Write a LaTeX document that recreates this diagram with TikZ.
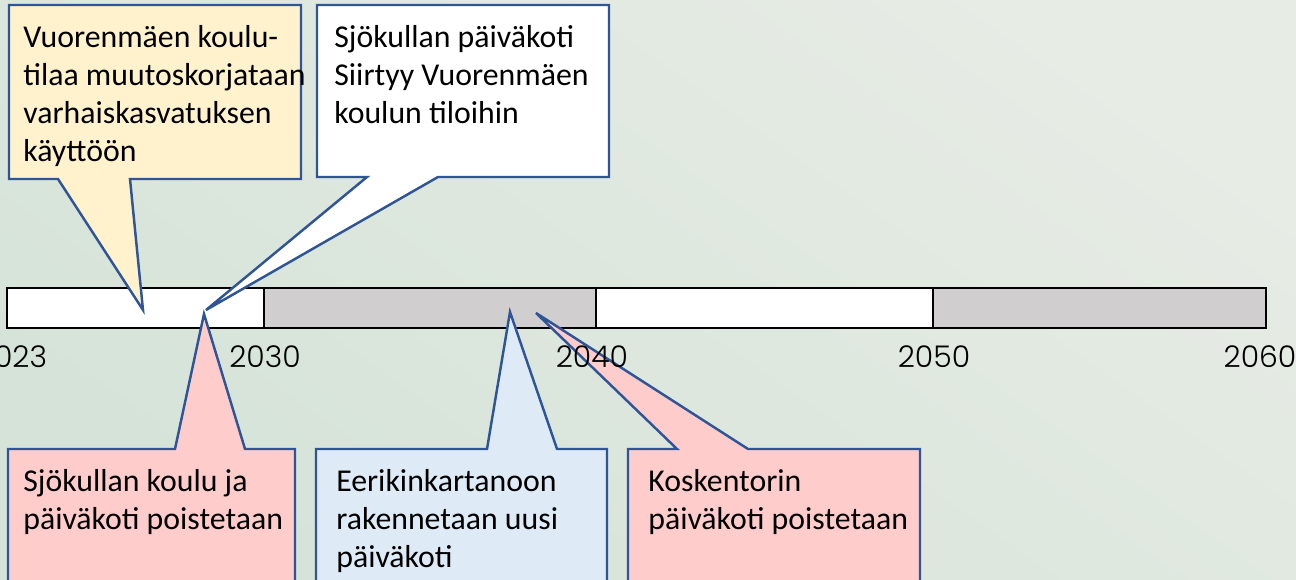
\documentclass[tikz,border=0pt]{standalone}
\usepackage{fontspec}
\setmainfont{Carlito}
\newfontfamily\yearfont{Poppins Light}
\definecolor{reuna}{RGB}{47,85,151}
\definecolor{keltainen}{RGB}{255,242,204}
\definecolor{punainen}{RGB}{255,204,204}
\definecolor{sininen}{RGB}{222,235,247}
\definecolor{harmaa}{RGB}{208,206,206}
\definecolor{taustaa}{RGB}{213,227,216}
\definecolor{taustab}{RGB}{231,236,229}
\usetikzlibrary{positioning}

\begin{document}
\begin{tikzpicture}[x=0.02cm,y=-0.02cm,
    puhe/.style={draw=reuna,line width=1.4pt,line join=miter},
    jana/.style={draw=black,line width=1.6pt},
    teksti/.style={anchor=north west,inner sep=0pt,align=left,
      font=\fontsize{18.1}{21.7}\selectfont},
    vuosi/.style={inner sep=0pt,font=\yearfont\fontsize{17}{20}\selectfont}]
      % 1 px = 0.02cm, y grows downwards
      \useasboundingbox (0,0) rectangle (1296,580);
      \clip (0,0) rectangle (1296,580);
      \shade[bottom color=taustaa,top color=taustab,shading angle=-35]
        (0,0) rectangle (1296,580);

      % time bar
      \draw[jana,fill=white]   (7,288)   rectangle (264,328);  % 2023-2030
      \draw[jana,fill=harmaa]  (264,288) rectangle (596,328);  % 2030-2040
      \draw[jana,fill=white]   (596,288) rectangle (933,328);  % 2040-2050
      \draw[jana,fill=harmaa]  (933,288) rectangle (1266,328); % 2050-2060

      % callouts above
      \draw[puhe,fill=keltainen] (9,5) -- (301,5) -- (301,179) -- (130,179)
        -- (143,310) -- (58,179) -- (9,179) -- cycle;
      \draw[puhe,fill=white] (317,5) -- (609,5) -- (609,177) -- (438,177)
        -- (206,310) -- (367,177) -- (317,177) -- cycle;

      % callouts below
      \draw[puhe,fill=punainen] (8,449) -- (175,449) -- (204,314) -- (245,449)
        -- (295,449) -- (295,590) -- (8,590) -- cycle;
      \draw[puhe,fill=sininen] (316,449) -- (487,449) -- (510,312) -- (557,449)
        -- (607,449) -- (607,590) -- (316,590) -- cycle;
      \draw[puhe,fill=punainen] (628,449) -- (677,449) -- (536,313) -- (748,449)
        -- (920,449) -- (920,590) -- (628,590) -- cycle;

      \node[teksti] (muutos) at (23,25)
        {Vuorenmäen koulu-\\tilaa muutoskorjataan\\varhaiskasvatuksen\\käyttöön};
      \node[teksti] (siirto) at (334,25)
        {Sjökullan päiväkoti\\Siirtyy Vuorenmäen\\koulun tiloihin};
      \node[teksti] (sjokulla) at (23,469)
        {Sjökullan koulu ja\\päiväkoti poistetaan};
      \node[teksti] (eerikki) at (336,469)
        {Eerikinkartanoon\\rakennetaan uusi\\päiväkoti};
      \node[teksti] (koski) at (648,469)
        {Koskentorin\\päiväkoti poistetaan};

      % years
      \node[vuosi] (v2023) at (12,357)   {2023};
      \node[vuosi] (v2030) at (265,357)  {2030};
      \node[vuosi] (v2040) at (592,357)  {2040};
      \node[vuosi] (v2050) at (934,357)  {2050};
      \node[vuosi] (v2060) at (1260,357) {2060};
    \end{tikzpicture}
\end{document}
